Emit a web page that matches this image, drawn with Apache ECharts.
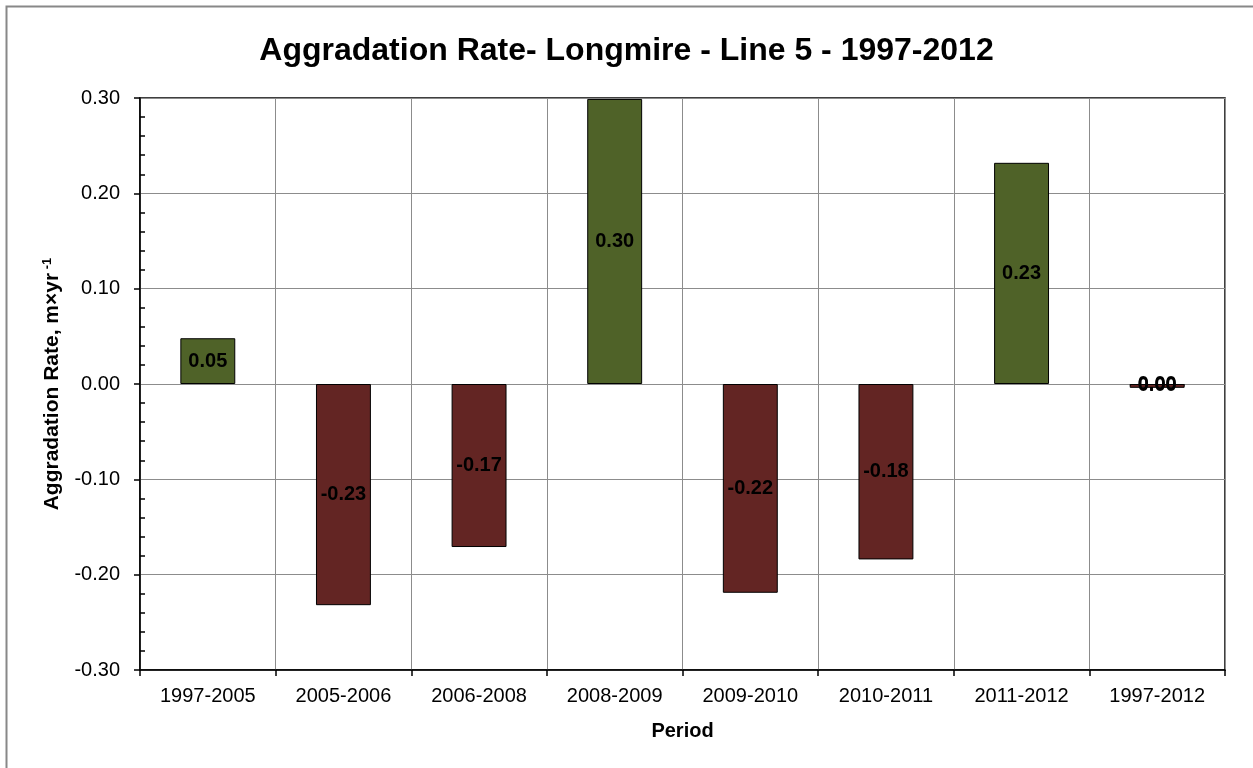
<!DOCTYPE html>
<html>
<head>
<meta charset="utf-8">
<script src="https://cdn.jsdelivr.net/npm/echarts@6/dist/echarts.min.js"></script>
<style>
  html, body { margin: 0; padding: 0; background: #ffffff; }
  #chart { width: 1253px; height: 768px; }
</style>
</head>
<body>
<div id="chart"></div>
<script>
// Periods along the x axis
const periods = ['1997-2005', '2005-2006', '2006-2008', '2008-2009', '2009-2010', '2010-2011', '2011-2012', '1997-2012'];
// Aggradation (positive rates), m/yr
const aggradation = [0.048, null, null, 0.299, null, null, 0.232, -0.002];
// Degradation (negative rates), m/yr
const degradation = [null, -0.232, -0.171, null, -0.219, -0.184, null, -0.004];
// Value axis ticks
const yMin = -0.3, yMax = 0.3, yStep = 0.1;

const font = 'Liberation Sans, Arial, sans-serif';
const fmt = v => {
  let s = Number(v).toFixed(2);
  if (s === '-0.00') s = '0.00';
  return s;
};

const chart = echarts.init(document.getElementById('chart'), null, { renderer: 'canvas' });

const barLabel = {
  show: true,
  position: 'inside',
  color: '#000',
  fontFamily: font,
  fontWeight: 'bold',
  fontSize: 20,
  formatter: p => fmt(p.value)
};

chart.setOption({
  animation: false,
  backgroundColor: '#ffffff',
  title: {
    text: 'Aggradation Rate- Longmire - Line 5 - 1997-2012',
    left: 'center',
    top: 30,
    textStyle: { fontFamily: font, fontWeight: 'bold', fontSize: 32, color: '#000' }
  },
  graphic: [
    {
      type: 'rect',
      shape: { x: 6.5, y: 6.5, width: 1260, height: 780 },
      style: { fill: 'none', stroke: '#888888', lineWidth: 2 },
      silent: true
    }
  ],
  grid: { left: 140, right: 28, top: 98, bottom: 98, show: true, borderColor: '#000', borderWidth: 1.5 },
  xAxis: {
    type: 'category',
    data: periods,
    name: 'Period',
    nameLocation: 'middle',
    nameGap: 51,
    nameTextStyle: { fontFamily: font, fontWeight: 'bold', fontSize: 20, color: '#000' },
    axisLine: { onZero: false, lineStyle: { color: '#000', width: 1.5 } },
    axisTick: { show: true, length: 6, lineStyle: { color: '#000', width: 1.5 } },
    axisLabel: { fontFamily: font, fontSize: 20, color: '#000', margin: 16 },
    splitLine: { show: true, interval: 0, lineStyle: { color: '#8c8c8c', width: 1 } }
  },
  yAxis: {
    type: 'value',
    min: yMin,
    max: yMax,
    interval: yStep,
    name: '{b|Aggradation Rate, m×yr}{s| -1}',
    nameLocation: 'middle',
    nameRotate: 90,
    nameGap: 76,
    nameTextStyle: {
      rich: {
        b: { fontFamily: font, fontWeight: 'bold', fontSize: 21, color: '#000' },
        s: { fontFamily: font, fontWeight: 'bold', fontSize: 13, color: '#000', verticalAlign: 'top', padding: [0, 0, 10, 0] }
      }
    },
    axisLine: { show: true, lineStyle: { color: '#000', width: 1.5 } },
    axisTick: { show: true, length: 6, lineStyle: { color: '#000', width: 1.5 } },
    minorTick: { show: true, splitNumber: 5, length: -5, lineStyle: { color: '#000', width: 1.5 } },
    axisLabel: { fontFamily: font, fontSize: 20, color: '#000', margin: 20, formatter: v => fmt(v) },
    splitLine: { show: true, lineStyle: { color: '#8c8c8c', width: 1 } }
  },
  series: [
    {
      name: 'Aggradation',
      type: 'bar',
      data: aggradation,
      barWidth: '40.5%',
      barGap: '-100%',
      itemStyle: { color: '#4f6228', borderColor: '#000', borderWidth: 1 },
      label: barLabel
    },
    {
      name: 'Degradation',
      type: 'bar',
      data: degradation,
      barWidth: '40.5%',
      barGap: '-100%',
      itemStyle: { color: '#632523', borderColor: '#000', borderWidth: 1 },
      label: barLabel
    }
  ]
});
</script>
</body>
</html>
